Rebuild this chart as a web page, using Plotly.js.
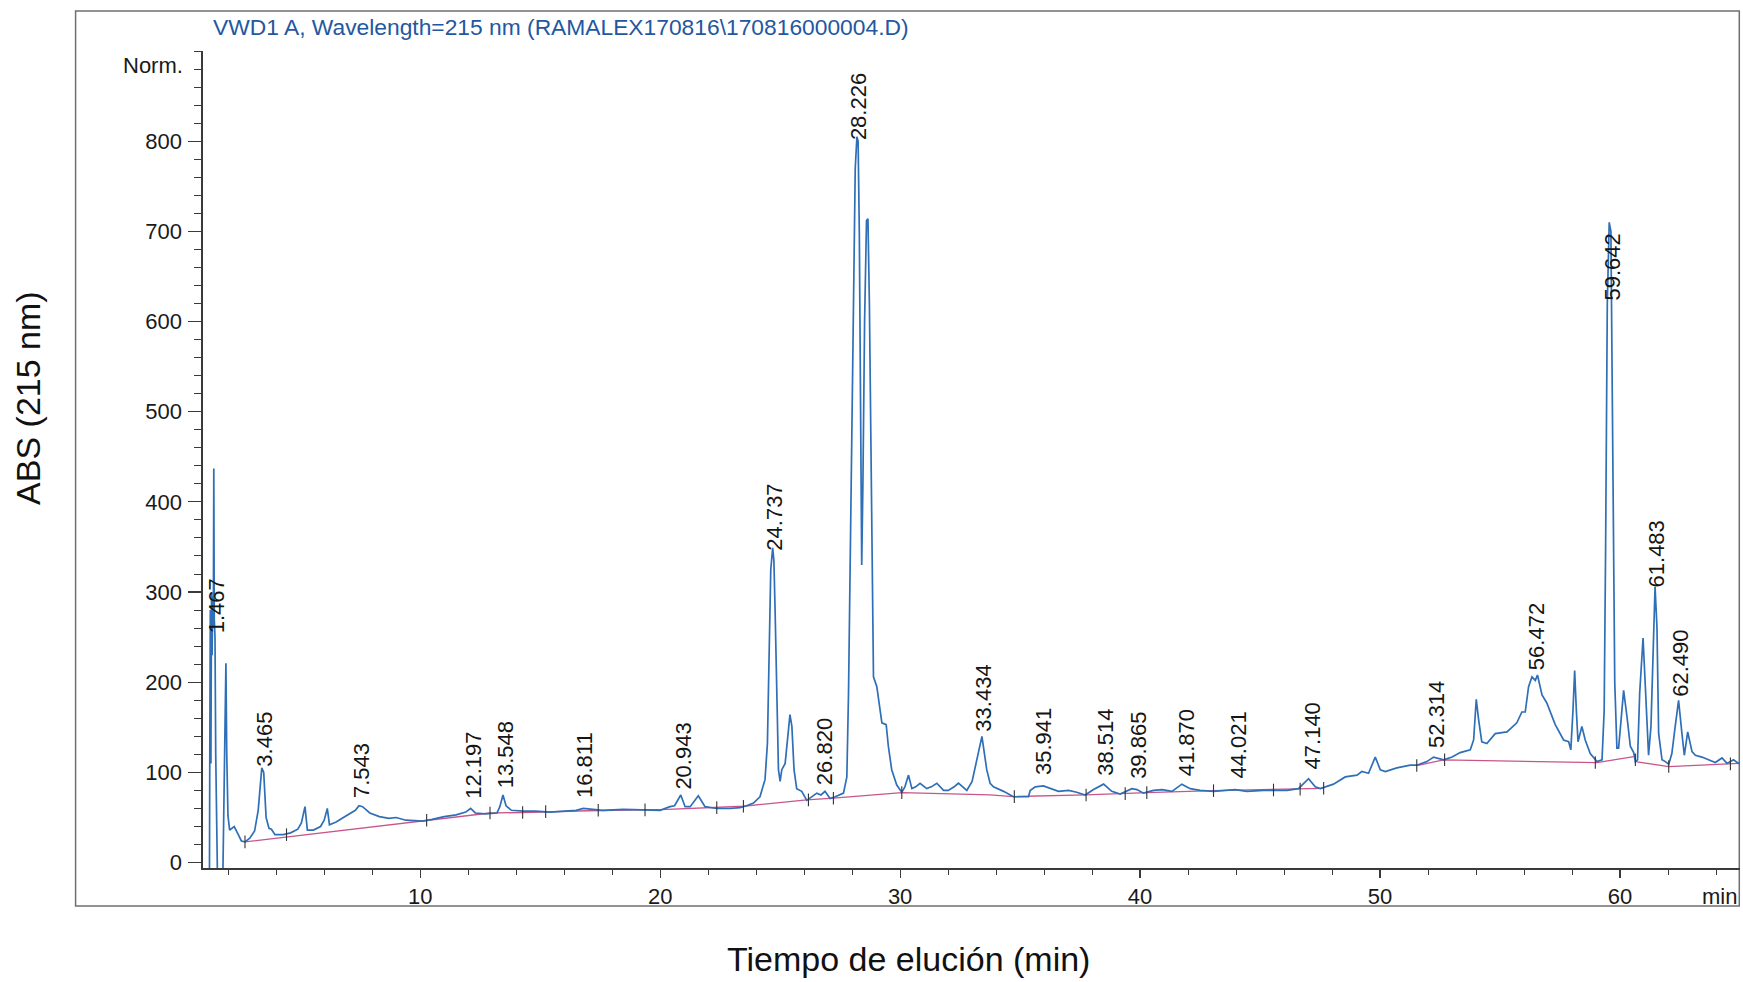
<!DOCTYPE html>
<html>
<head>
<meta charset="utf-8">
<script src="https://cdn.plot.ly/plotly-3.0.1.min.js"></script>
<style>
html,body{margin:0;padding:0;background:#fff;}
#chart{width:1743px;height:982px;}
</style>
</head>
<body>
<div id="chart"></div>
<script>
// ---- Chromatogram signal (time in min, absorbance) ----
const signalTime = [
1.20,1.22,1.23,1.255,1.28,1.305,1.33,1.355,1.38,1.40,1.42,1.45,1.48,1.52,1.55,1.78,1.85,1.905,1.94,1.99,
2.06,2.15,2.25,2.40,2.55,2.70,2.90,3.10,3.25,3.40,3.48,3.58,3.70,3.80,3.95,4.30,4.60,4.90,5.05,5.20,
5.30,5.55,5.85,6.00,6.13,6.22,6.50,6.80,7.10,7.30,7.45,7.60,7.90,8.30,8.70,9.00,9.40,9.80,10.10,10.50,
11.00,11.50,11.90,12.10,12.30,12.70,13.20,13.32,13.45,13.58,13.80,14.30,14.80,15.40,16.00,16.50,16.80,17.20,17.60,18.47,
19.37,20.00,20.41,20.60,20.86,21.04,21.25,21.59,21.87,22.36,22.90,23.33,23.60,23.89,24.16,24.37,24.47,24.55,24.61,24.69,
24.74,24.79,24.86,24.93,25.00,25.07,25.21,25.34,25.41,25.49,25.58,25.69,25.90,26.11,26.30,26.53,26.70,26.87,27.08,27.30,
27.64,27.78,27.85,27.92,27.99,28.06,28.13,28.20,28.25,28.30,28.35,28.40,28.45,28.52,28.60,28.66,28.72,28.78,28.83,28.89,
29.03,29.24,29.42,29.51,29.65,29.86,30.07,30.20,30.35,30.49,30.65,30.83,31.11,31.30,31.53,31.81,32.01,32.25,32.43,32.78,
33.00,33.20,33.41,33.61,33.75,33.89,34.31,34.72,35.35,35.42,35.63,35.97,36.32,36.60,37.02,37.36,37.71,38.06,38.48,38.82,
39.17,39.66,39.87,40.14,40.56,40.91,41.33,41.74,42.09,42.50,43.06,43.48,43.96,44.45,45.15,46.12,46.60,47.02,47.30,47.51,
48.06,48.55,49.04,49.24,49.52,49.80,50.01,50.22,50.70,51.26,51.53,51.95,52.23,52.65,53.00,53.34,53.76,53.90,54.01,54.11,
54.24,54.45,54.80,55.29,55.70,55.91,56.05,56.19,56.33,56.47,56.56,56.75,56.95,57.30,57.65,57.86,57.95,58.04,58.11,58.18,
58.25,58.41,58.55,58.76,59.04,59.25,59.34,59.40,59.47,59.55,59.62,59.70,59.78,59.87,59.94,60.05,60.15,60.29,60.43,60.57,
60.64,60.73,60.82,60.96,61.10,61.19,61.29,61.40,61.46,61.54,61.61,61.75,61.89,62.03,62.16,62.30,62.44,62.58,62.68,62.82,
63.00,63.14,63.41,63.69,63.97,64.25,64.46,64.73,64.94,65.00
];
const signalAbs = [
-10,-10,94,280,110,300,230,295,260,437,270,250,120,20,-10,-10,140,221,120,52,
36,38,40,32,24,23,27,35,58,105,100,50,38,37,31,31,33,37,44,62,
36,36,40,47,60,42,45,50,55,58,63,62,55,51,49,50,47,46,46,48,
51,53,56,60,55,54,55,62,75,63,58,57,57,56,57,58,60,59,58,59,
58,58,62,63,75,62,62,74,62,60,60,61,63,66,73,92,132,225,325,349,
335,280,188,103,90,103,110,151,164,151,103,82,79,69,73,77,75,79,71,73,
77,95,188,336,446,650,770,805,800,700,470,330,420,600,712,714,620,460,336,206,
195,155,153,129,103,86,78,84,97,82,84,88,82,84,88,80,80,84,88,80,
90,114,140,103,88,84,79,73,73,80,84,85,82,79,80,78,75,81,87,79,
76,82,81,77,80,81,79,87,82,80,79,80,81,79,80,80,82,93,84,82,
87,95,97,101,99,117,103,101,105,108,108,112,117,114,117,122,125,136,181,158,
134,132,143,145,155,167,167,195,206,202,208,186,177,153,136,134,125,169,213,169,
134,151,136,121,112,114,169,350,620,710,700,450,200,127,127,160,191,162,129,122,
112,114,188,249,169,119,151,261,306,261,143,114,112,109,121,151,180,143,119,145,
123,119,117,114,111,116,110,114,110,111
];

// ---- Integration baseline (null = break between segments) ----
const baselineTime = [2.70,10.27,12.91,14.27,17.0,20.3,23.47,26.11,27.22,30.07,33.75,34.72,37.75,40.28,43.06,47.65,null,51.53,52.65,59.04,60.57,null,60.64,62.03,64.95];
const baselineAbs  = [23,47,55,55.5,57.5,59,62.5,69.5,71.4,77.6,75,73.2,75,77.6,79.8,82.4,null,107.6,113.9,110.9,117.5,null,112,106.5,110];

// ---- Integration event marks ----
const eventTime = [2.70,4.43,10.27,12.91,14.27,15.23,17.42,19.37,22.36,23.47,26.18,27.22,30.07,34.76,37.75,39.38,40.28,43.06,45.56,46.67,47.65,51.53,52.69,58.97,60.64,62.03,64.6];
const eventAbs  = [23,31,47,55,55.5,56.5,58,58.5,61,62.5,69.5,71.4,77.6,73.2,75,76.5,77.6,79.8,80.5,81.5,82.4,107.6,114,111,114,106.5,109.5];

// ---- Peak labels ----
const peakLabels = ['1.467','3.465','7.543','12.197','13.548','16.811','20.943','24.737','26.820','28.226','33.434','35.941','38.514','39.865','41.870','44.021','47.140','52.314','56.472','59.642','61.483','62.490'];
const peakTime   = [1.467,3.465,7.543,12.197,13.548,16.811,20.943,24.737,26.820,28.226,33.434,35.941,38.514,39.865,41.870,44.021,47.140,52.314,56.472,59.642,61.483,62.490];
const peakLabelBase = [252,104,69,69,80,69,79,344,84,799,143,95,94,91,94,91,101,125,211,621,303,182];

// ---- Axis ticks ----
const xTickVals = [10,20,30,40,50,60];
const xTickText = ['10','20','30','40','50','60'];
const yTickVals = [0,100,200,300,400,500,600,700,800];
const yTickText = ['0','100','200','300','400','500','600','700','800'];

const FONT = 'Liberation Sans, Arial, Helvetica, sans-serif';

const traces = [
  {
    x: baselineTime, y: baselineAbs, type: 'scatter', mode: 'lines',
    line: {color: '#c8568a', width: 1.3}, connectgaps: false, hoverinfo: 'skip', showlegend: false
  },
  {
    x: signalTime, y: signalAbs, type: 'scatter', mode: 'lines',
    line: {color: '#2e6fb7', width: 1.7}, hoverinfo: 'skip', showlegend: false
  },
  {
    x: eventTime, y: eventAbs, type: 'scatter', mode: 'markers',
    marker: {symbol: 'line-ns', size: 9, line: {color: '#333333', width: 1.1}},
    hoverinfo: 'skip', showlegend: false
  }
];

const peakAnnotations = peakLabels.map((txt, i) => ({
  x: peakTime[i], y: peakLabelBase[i], xref: 'x', yref: 'y',
  text: txt, textangle: -90, showarrow: false,
  xanchor: 'center', yanchor: 'bottom', xshift: 1,
  font: {family: FONT, size: 22, color: '#151515'}
}));

const textAnnotations = [
  {text: 'VWD1 A, Wavelength=215 nm (RAMALEX170816\\170816000004.D)', xref: 'paper', yref: 'paper',
   x: 0.0052, y: 1.0297, xanchor: 'left', yanchor: 'middle', showarrow: false,
   font: {family: FONT, size: 22.8, color: '#23579f'}},
  {text: 'Norm.', xref: 'paper', yref: 'paper', x: -0.012, y: 0.982, xanchor: 'right', yanchor: 'middle',
   showarrow: false, font: {family: FONT, size: 22, color: '#1a1a1a'}},
  {text: 'min', xref: 'paper', yref: 'paper', x: 0.9994, y: -0.0343, xanchor: 'right', yanchor: 'middle',
   showarrow: false, font: {family: FONT, size: 22, color: '#1a1a1a'}},
  {text: 'ABS (215 nm)', xref: 'paper', yref: 'paper', x: -0.1139, y: 0.5753, textangle: -90,
   xanchor: 'center', yanchor: 'middle', showarrow: false, font: {family: FONT, size: 34, color: '#111111'}},
  {text: 'Tiempo de elución (min)', xref: 'paper', yref: 'paper', x: 0.4593, y: -0.1114,
   xanchor: 'center', yanchor: 'middle', showarrow: false, font: {family: FONT, size: 34, color: '#111111'}}
];

const layout = {
  width: 1743, height: 982,
  margin: {l: 203, r: 3, t: 51, b: 114, pad: 0},
  paper_bgcolor: '#ffffff', plot_bgcolor: '#ffffff',
  showlegend: false,
  font: {family: FONT, size: 22, color: '#1a1a1a'},
  xaxis: {
    range: [0.95, 65.0], showgrid: false, zeroline: false,
    showline: true, linecolor: '#3a3a3a', linewidth: 1.6,
    tickmode: 'array', tickvals: xTickVals, ticktext: xTickText,
    ticks: 'outside', ticklen: 8, tickwidth: 1.2, tickcolor: '#3a3a3a',
    ticklabelstandoff: 0,
    tickfont: {family: FONT, size: 22, color: '#1a1a1a'},
    minor: {dtick: 2, tick0: 0, ticks: 'outside', ticklen: 5, tickwidth: 1, tickcolor: '#3a3a3a', showgrid: false}
  },
  yaxis: {
    range: [-6, 900], showgrid: false, zeroline: false,
    showline: true, linecolor: '#3a3a3a', linewidth: 1.6,
    tickmode: 'array', tickvals: yTickVals, ticktext: yTickText,
    ticks: 'outside', ticklen: 13, tickwidth: 1.2, tickcolor: '#3a3a3a',
    ticklabelstandoff: 2,
    tickfont: {family: FONT, size: 22, color: '#1a1a1a'},
    minor: {dtick: 20, tick0: 0, ticks: 'outside', ticklen: 7, tickwidth: 1, tickcolor: '#3a3a3a', showgrid: false}
  },
  shapes: [
    {type: 'rect', xref: 'paper', yref: 'paper', x0: -0.0829, x1: 0.99954, y0: -0.0465, y1: 1.049,
     line: {color: '#6f6f6f', width: 1.5}, fillcolor: 'rgba(0,0,0,0)', layer: 'below'}
  ],
  annotations: textAnnotations.concat(peakAnnotations)
};

Plotly.newPlot('chart', traces, layout, {staticPlot: true, displayModeBar: false});
</script>
</body>
</html>
